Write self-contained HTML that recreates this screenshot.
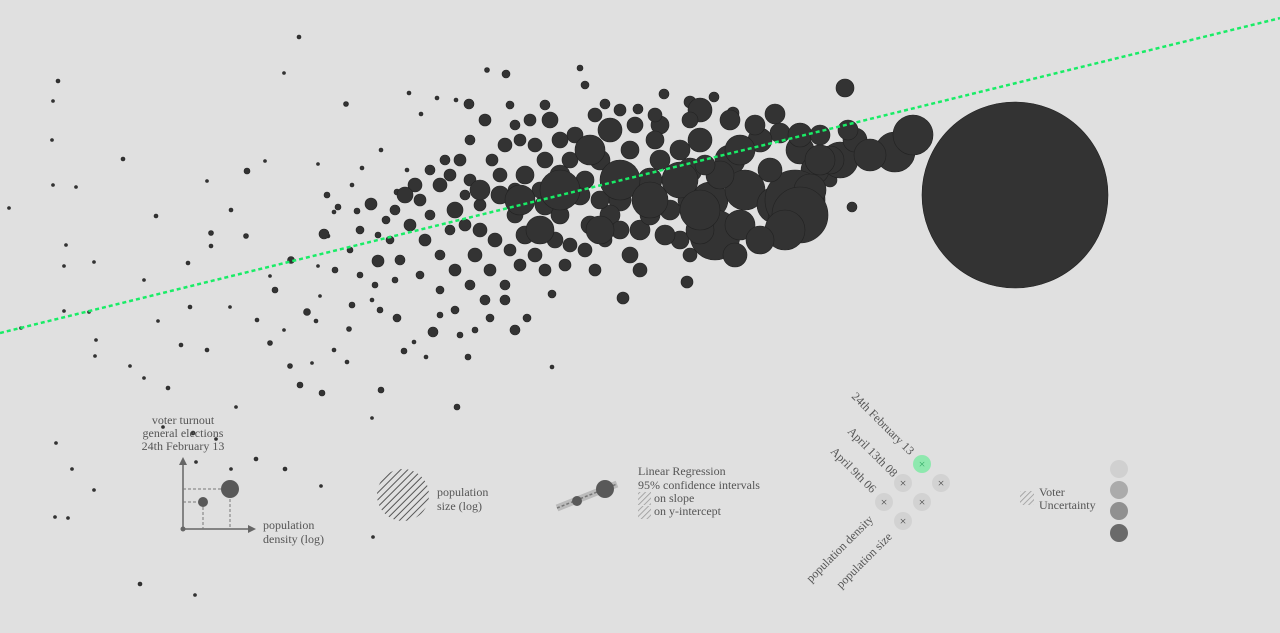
<!DOCTYPE html>
<html><head><meta charset="utf-8">
<style>
html,body{margin:0;padding:0;background:#e0e0e0;width:1280px;height:633px;overflow:hidden}
svg{display:block}
text{font-family:"Liberation Serif","DejaVu Serif",serif;fill:#555;font-size:12px}
</style></head>
<body>
<svg id="chart" width="1280" height="633" viewBox="0 0 1280 633" xmlns="http://www.w3.org/2000/svg">
<defs>
<pattern id="hatch" width="5" height="5" patternUnits="userSpaceOnUse" patternTransform="rotate(45)">
<rect width="5" height="5" fill="#e0e0e0"/><line x1="0" y1="0" x2="0" y2="5" stroke="#555" stroke-width="2"/></pattern>
<pattern id="hatchL" width="4" height="4" patternUnits="userSpaceOnUse" patternTransform="rotate(45)">
<rect width="4" height="4" fill="#e0e0e0"/><line x1="0" y1="0" x2="0" y2="4" stroke="#999" stroke-width="1.6"/></pattern>
</defs>
<g id="points"></g>
<g id="reg"></g>

<g>
<text x="183" y="424" text-anchor="middle">voter turnout</text>
<text x="183" y="437" text-anchor="middle">general elections</text>
<text x="183" y="450" text-anchor="middle">24th February 13</text>
<line x1="183" y1="529" x2="183" y2="462" stroke="#666" stroke-width="1.5"/>
<polygon points="183,457 179,465 187,465" fill="#666"/>
<line x1="183" y1="529" x2="250" y2="529" stroke="#666" stroke-width="1.5"/>
<polygon points="256,529 248,525 248,533" fill="#666"/>
<circle cx="183" cy="529" r="2.5" fill="#666"/>
<line x1="183" y1="489" x2="230" y2="489" stroke="#777" stroke-dasharray="3,2"/>
<line x1="230" y1="489" x2="230" y2="529" stroke="#777" stroke-dasharray="3,2"/>
<line x1="183" y1="502" x2="203" y2="502" stroke="#777" stroke-dasharray="3,2"/>
<line x1="203" y1="502" x2="203" y2="529" stroke="#777" stroke-dasharray="3,2"/>
<circle cx="230" cy="489" r="9" fill="#595959"/>
<circle cx="203" cy="502" r="5" fill="#595959"/>
<text x="263" y="529">population</text>
<text x="263" y="543">density (log)</text>
</g>

<g>
<circle cx="403" cy="495" r="26" fill="url(#hatch)"/>
<text x="437" y="496">population</text>
<text x="437" y="510">size (log)</text>
</g>

<g>
<line x1="557" y1="508" x2="617" y2="484" stroke="#bbb" stroke-width="7"/>
<line x1="557" y1="508" x2="617" y2="484" stroke="#777" stroke-width="1.5" stroke-dasharray="3,2"/>
<circle cx="605" cy="489" r="9" fill="#595959"/>
<circle cx="577" cy="501" r="5" fill="#595959"/>
<text x="638" y="475">Linear Regression</text>
<text x="638" y="489">95% confidence intervals</text>
<rect x="638" y="492" width="13" height="13" fill="url(#hatchL)"/>
<text x="654" y="502">on slope</text>
<rect x="638" y="506" width="13" height="13" fill="url(#hatchL)"/>
<text x="654" y="515">on y-intercept</text>
</g>

<g>
<text transform="translate(851,397) rotate(45)">24th February 13</text>
<text transform="translate(847,432) rotate(45)">April 13th 08</text>
<text transform="translate(830,452) rotate(45)">April 9th 06</text>
<text transform="translate(811,583) rotate(-45)">population density</text>
<text transform="translate(841,589) rotate(-45)">population size</text>
<g><circle cx="922" cy="464" r="9" fill="#8ee8ae"/><text x="922" y="468" text-anchor="middle" style="font-size:12px;fill:#3a6">×</text></g>
<g><circle cx="903" cy="483" r="9" fill="#d2d2d2"/><text x="903" y="487" text-anchor="middle" style="fill:#444">×</text></g>
<g><circle cx="941" cy="483" r="9" fill="#d2d2d2"/><text x="941" y="487" text-anchor="middle" style="fill:#444">×</text></g>
<g><circle cx="884" cy="502" r="9" fill="#d2d2d2"/><text x="884" y="506" text-anchor="middle" style="fill:#444">×</text></g>
<g><circle cx="922" cy="502" r="9" fill="#d2d2d2"/><text x="922" y="506" text-anchor="middle" style="fill:#444">×</text></g>
<g><circle cx="903" cy="521" r="9" fill="#d2d2d2"/><text x="903" y="525" text-anchor="middle" style="fill:#444">×</text></g>
</g>

<g>
<rect x="1020" y="491" width="14" height="14" fill="url(#hatchL)"/>
<text x="1039" y="496">Voter</text>
<text x="1039" y="509">Uncertainty</text>
<circle cx="1119" cy="469" r="9" fill="#d0d0d0"/>
<circle cx="1119" cy="490" r="9" fill="#ababab"/>
<circle cx="1119" cy="511" r="9" fill="#909090"/>
<circle cx="1119" cy="533" r="9" fill="#6a6a6a"/>
</g>
</svg>
<script>
// density (log units), turnout (%), size (population index; radius = sqrt)
const dens=[
2.99,0.58,0.53,2.84,0.52,1.23,0.53,0.76,0.09,1.56,
2.07,2.47,2.65,2.31,2.11,2.46,0.66,0.94,2.11,0.64,
1.88,2.91,1.44,2.70,0.64,0.89,0.21,1.58,1.90,2.30,
0.96,0.95,1.81,2.07,1.30,1.44,1.68,2.57,2.75,2.84,
2.70,3.00,3.22,3.81,3.72,4.57,4.68,5.52,4.26,4.04,
4.14,0.56,0.72,0.94,0.55,0.68,1.63,1.93,1.96,2.16,
2.56,2.31,2.85,3.21,3.73,1.40,1.95,2.36,2.90,3.12,
3.16,3.34,3.49,3.52,3.72,3.47,3.35,3.07,3.18,3.20,
3.28,3.34,3.38,3.24,3.18,3.46,3.27,3.52,3.62,3.57,
3.71,3.86,3.78,3.78,3.97,3.81,4.07,4.09,4.21,4.37,
4.56,4.69,4.87,5.06,5.80,5.85,6.05,6.38,6.64,6.90,
7.14,7.33,7.75,7.80,8.45,8.52,8.30,6.23,6.87,5.52,
5.27,5.15,4.90,4.33,4.60,3.97,5.10,4.20,4.40,4.55,
4.70,4.80,4.92,5.00,5.15,5.25,5.35,5.45,5.55,5.60,
5.75,5.80,5.90,6.00,6.10,6.20,6.30,6.40,6.50,6.60,
6.70,6.80,6.90,7.00,7.10,7.15,7.30,7.45,7.60,7.75,
7.90,8.00,8.15,8.40,8.55,8.95,9.13,7.95,7.30,7.00,
7.55,8.00,8.20,6.55,6.35,5.95,5.50,5.20,5.05,4.85,
4.70,4.60,4.45,4.30,4.15,4.05,3.95,4.10,4.25,4.40,
4.55,4.75,4.90,5.05,5.20,5.35,5.65,5.85,6.05,6.30,
6.65,6.90,5.25,5.60,6.10,6.40,4.80,4.65,4.50,4.30,
3.90,4.00,4.20,4.40,4.70,4.85,5.05,3.75,3.60,3.50,
3.60,3.95,3.80,4.55,4.75,4.40,6.15,6.00,6.80,7.20,
7.40,7.70,8.10,8.30,8.00,7.85,8.70,8.48,10.15,
4.50,4.65,4.95,5.10,5.45,5.70,5.85,6.20,6.50,6.60,
5.40,5.00,5.15,5.70,5.95,5.45,6.40,7.00,7.35,7.60,
6.90,7.05,6.55,6.25,5.60,5.30,6.90,6.20,5.45,5.15,
5.60,6.20,6.50,5.20,5.90,6.80,7.40,8.20,6.00,5.40,4.80,7.00];
const turnout=[
96.3,91.9,89.9,92.7,86.0,84.1,81.5,81.3,79.2,78.4,
81.9,82.9,83.9,79.0,76.7,76.4,75.5,73.8,75.4,73.4,
73.7,74.0,72.0,72.4,68.9,68.8,67.2,67.9,69.3,69.3,
66.0,64.4,65.5,65.0,63.4,62.2,61.2,68.0,71.0,67.0,
65.7,61.5,60.7,61.0,58.2,59.3,64.3,63.3,64.3,64.9,
65.8,55.7,53.1,51.0,48.3,48.2,57.3,56.7,53.8,56.1,
54.1,53.1,53.1,51.4,46.3,41.6,40.5,59.3,63.4,63.7,
67.9,65.0,67.1,69.5,70.0,63.8,73.0,68.8,73.4,70.4,
76.4,78.8,79.3,76.6,83.6,89.6,80.5,81.5,83.2,78.9,
79.6,78.0,73.9,76.5,80.8,85.0,83.0,90.7,88.6,90.2,
90.0,89.6,93.0,92.6,93.2,91.5,89.6,89.1,90.6,89.8,
90.3,88.7,88.6,86.7,91.2,79.3,82.0,70.2,71.8,70.6,
68.2,67.0,68.2,66.8,66.5,68.2,89.5,80.0,81.5,79.0,
82.0,77.0,84.0,80.5,78.5,82.5,85.5,79.5,76.0,82.5,
86.5,80.5,77.5,84.0,87.0,80.0,85.0,77.0,82.0,87.5,
79.0,76.0,83.0,86.0,80.0,76.5,84.0,81.0,86.0,79.5,
78.0,85.0,83.0,84.0,86.0,84.8,86.5,80.0,88.0,89.0,
87.5,86.5,86.5,88.5,87.5,88.5,88.0,86.0,85.5,88.0,
86.0,84.0,84.0,83.0,81.5,80.5,79.0,77.5,76.0,74.5,
73.0,74.5,73.0,71.5,73.5,74.5,73.5,75.0,76.0,74.5,
76.5,74.5,76.5,78.5,78.5,80.0,79.5,80.5,77.0,78.5,
76.0,74.0,72.5,71.0,71.5,70.0,70.0,71.5,72.5,75.0,
77.0,72.0,69.0,69.0,67.0,68.5,82.5,80.0,85.0,82.5,
77.5,83.0,81.0,84.0,78.5,77.0,84.5,87.0,80.5,
82.5,77.5,76.0,75.0,84.0,84.0,82.0,77.0,78.5,84.0,
81.0,82.5,81.0,75.5,73.0,73.0,73.0,77.0,74.5,76.0,
80.0,83.5,86.0,82.5,86.0,88.0,88.0,89.0,89.5,87.5,
81.0,82.0,80.0,80.0,85.0,82.0,85.0,84.0,77.0,77.0,81.0,79.0];
const size=[
4,4,2.25,2.25,2.25,4,2.25,2.25,2.25,4,
2.25,9,2.25,4,6.25,6.25,2.25,2.25,4,2.25,
4,12.25,2.25,2.25,2.25,2.25,2.25,2.25,4,2.25,
2.25,2.25,4,4,2.25,2.25,4,4,9,2.25,
6.25,9,9,9,2.25,9,9,4,4,9,
4,2.25,2.25,2.25,2.25,2.25,2.25,4,2.25,2.25,
4,2.25,4,2.25,2.25,4,2.25,2.25,6.25,2.25,
4,4,6.25,9,4,4,9,12.25,2.25,2.25,
4,4,9,25,2.25,6.25,9,4,4,9,
36,16,36,9,9,4,4,4,4,4,
4,25,6.25,16,9,16,25,25,25,36,
25,36,100,100,81,25,49,36,36,16,
16,25,16,25,9,16,16,36,49,64,
36,49,36,81,64,81,49,100,64,100,
64,100,81,100,144,121,81,100,144,81,
100,81,144,144,324,625,225,400,144,324,
484,196,196,324,144,400,400,900,100,144,
100,144,100,49,64,49,64,36,49,36,
25,36,25,25,49,64,25,36,36,25,
36,49,36,25,36,49,36,49,49,64,
100,49,81,81,100,64,36,25,25,25,
16,25,16,16,25,25,25,9,9,9,
16,9,9,16,9,9,64,81,100,196,
225,144,256,196,784,400,256,100,8649,
36,36,49,36,64,64,81,81,100,100,
64,49,49,49,36,36,49,196,144,196,
144,100,81,81,64,36,64,36,25,25,
400,400,324,225,225,324,225,225,196,196,100,400];
const regIntercept=66.7, regSlope=2.46;

function xScale(d){return d*100;}
function yScale(t){return (100-t)*10;}
function rScale(s){return Math.sqrt(s);}
const NS="http://www.w3.org/2000/svg";
const g=document.getElementById('points');
const n=Math.min(dens.length,turnout.length,size.length);
for(let i=0;i<n;i++){
  const c=document.createElementNS(NS,'circle');
  c.setAttribute('cx',xScale(dens[i]));
  c.setAttribute('cy',yScale(turnout[i]));
  c.setAttribute('r',rScale(size[i]));
  c.setAttribute('fill','#333');
  c.setAttribute('stroke','#222');
  c.setAttribute('stroke-width','0.6');
  
  
  g.appendChild(c);
}
const rg=document.getElementById('reg');
const ln=document.createElementNS(NS,'line');
ln.setAttribute('x1',xScale(0));ln.setAttribute('y1',yScale(regIntercept));
ln.setAttribute('x2',xScale(12.8));ln.setAttribute('y2',yScale(regIntercept+regSlope*12.8));
ln.setAttribute('stroke','#19ec66');ln.setAttribute('stroke-width','2.5');ln.setAttribute('stroke-dasharray','4,3');


rg.appendChild(ln);
</script>
</body></html>
